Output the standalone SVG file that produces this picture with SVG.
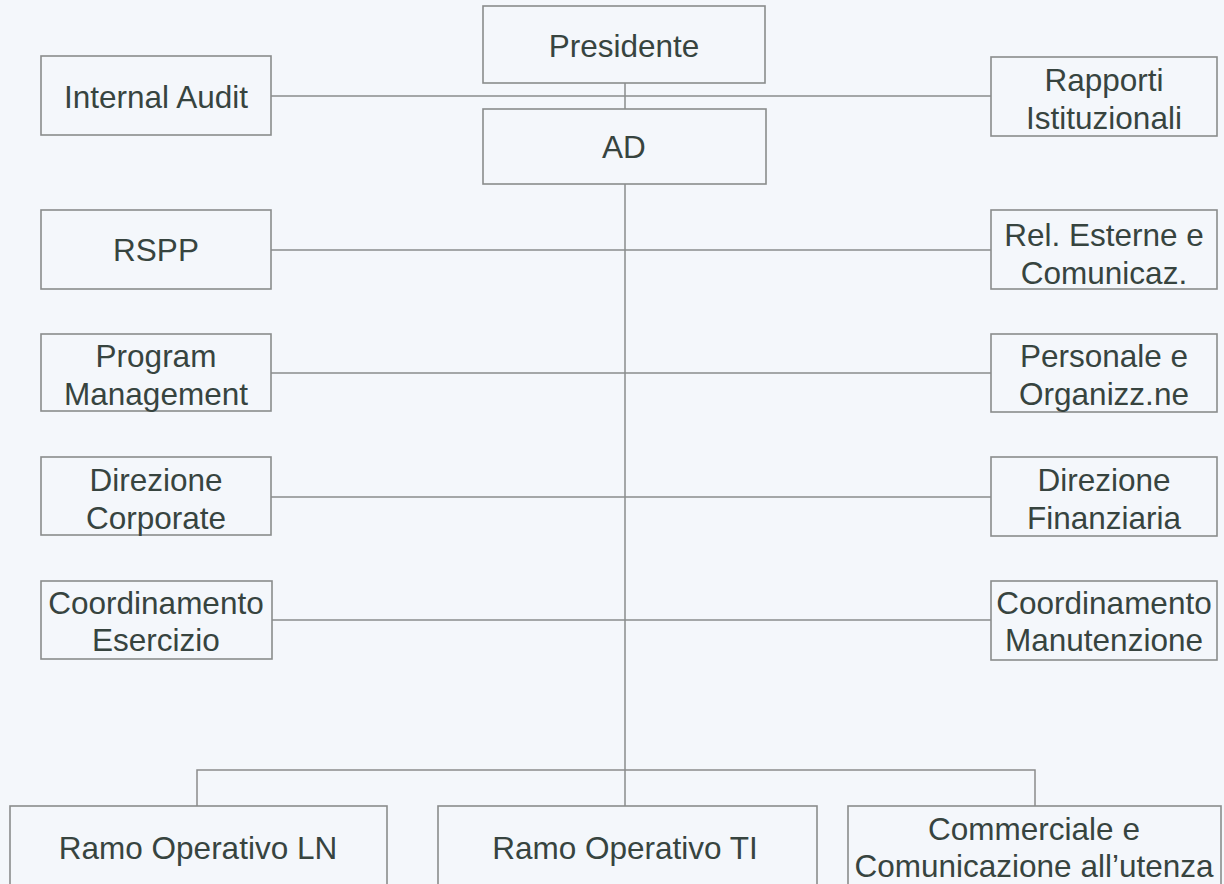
<svg xmlns="http://www.w3.org/2000/svg" width="1224" height="884" viewBox="0 0 1224 884">
<style>
.bg{fill:#f4f7fb}
.box{fill:none;stroke:#8a8c8c;stroke-width:1.6}
.ln{fill:none;stroke:#8a8c8c;stroke-width:1.5}
text{font-family:"Liberation Sans",Arial,sans-serif;font-size:31.5px;fill:#37443f;text-anchor:middle}
</style>
<rect class="bg" x="0" y="0" width="1224" height="884"/>
<g id="connectors">
<path class="ln" d="M625,83V109"/>
<path class="ln" d="M271,96H991"/>
<path class="ln" d="M625,184V806"/>
<path class="ln" d="M271,250H991"/>
<path class="ln" d="M271,373H991"/>
<path class="ln" d="M271,497H991"/>
<path class="ln" d="M272,620H991"/>
<path class="ln" d="M197,806V770H1035V806"/>
</g>
<g id="presidente"><rect class="box" x="483" y="6" width="282" height="77"/><text x="624" y="57">Presidente</text></g>
<g id="ad"><rect class="box" x="483" y="109" width="283" height="75"/><text x="624" y="158">AD</text></g>
<g id="internal-audit"><rect class="box" x="41" y="56" width="230" height="79"/><text x="156" y="108">Internal Audit</text></g>
<g id="rapporti-istituzionali"><rect class="box" x="991" y="57" width="226" height="79"/><text x="1104" y="91">Rapporti</text><text x="1104" y="129">Istituzionali</text></g>
<g id="rspp"><rect class="box" x="41" y="210" width="230" height="79"/><text x="156" y="261">RSPP</text></g>
<g id="rel-esterne"><rect class="box" x="991" y="210" width="226" height="79"/><text x="1104" y="246">Rel. Esterne e</text><text x="1104" y="284">Comunicaz.</text></g>
<g id="program-management"><rect class="box" x="41" y="334" width="230" height="77"/><text x="156" y="367">Program</text><text x="156" y="405">Management</text></g>
<g id="personale"><rect class="box" x="991" y="334" width="226" height="78"/><text x="1104" y="367">Personale e</text><text x="1104" y="405">Organizz.ne</text></g>
<g id="direzione-corporate"><rect class="box" x="41" y="457" width="230" height="78"/><text x="156" y="491">Direzione</text><text x="156" y="529">Corporate</text></g>
<g id="direzione-finanziaria"><rect class="box" x="991" y="457" width="226" height="79"/><text x="1104" y="491">Direzione</text><text x="1104" y="529">Finanziaria</text></g>
<g id="coord-esercizio"><rect class="box" x="41" y="581" width="231" height="78"/><text x="156" y="614">Coordinamento</text><text x="156" y="651">Esercizio</text></g>
<g id="coord-manutenzione"><rect class="box" x="991" y="581" width="226" height="79"/><text x="1104" y="614">Coordinamento</text><text x="1104" y="651">Manutenzione</text></g>
<g id="ramo-ln"><rect class="box" x="10" y="806" width="377" height="95"/><text x="198" y="859">Ramo Operativo LN</text></g>
<g id="ramo-ti"><rect class="box" x="438" y="806" width="379" height="95"/><text x="625" y="859">Ramo Operativo TI</text></g>
<g id="commerciale"><rect class="box" x="848" y="806" width="373" height="95"/><text x="1034" y="840">Commerciale e</text><text x="1034" y="877">Comunicazione all’utenza</text></g>
</svg>
